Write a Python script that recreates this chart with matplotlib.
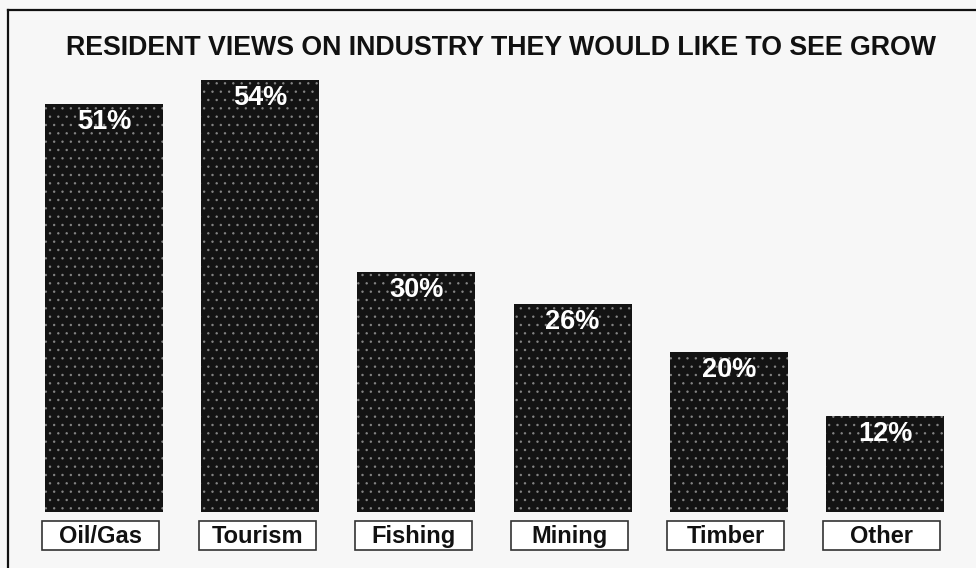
import matplotlib
matplotlib.use("Agg")
import matplotlib.pyplot as plt
from matplotlib.patches import Rectangle
from matplotlib.lines import Line2D

plt.rcParams['font.family'] = ['Liberation Sans', 'DejaVu Sans']
plt.rcParams['hatch.color'] = '#d8d8d8'
plt.rcParams['hatch.linewidth'] = 0.6

# survey results
industries = ['Oil/Gas', 'Tourism', 'Fishing', 'Mining', 'Timber', 'Other']
percent = [51, 54, 30, 26, 20, 12]
title = 'RESIDENT VIEWS ON INDUSTRY THEY WOULD LIKE TO SEE GROW'

W, H = 976, 568
bg = '#f7f7f7'
fig = plt.figure(figsize=(W / 100, H / 100), dpi=100, facecolor=bg)
ax = fig.add_axes([0, 0, 1, 1])
ax.set_facecolor(bg)
ax.axis('off')

# pixel -> data: bar pitch ~156px, 8px per percent, baseline at y=512px
pitch = 156.2
x0 = 104
ax.set_xlim(-x0 / pitch, (W - x0) / pitch)
ax.set_ylim(-(H - 512) / 8, 512 / 8)

pos = list(range(len(industries)))
bw = 0.755
ax.bar(pos, percent, width=bw, color='#131313', linewidth=0, zorder=2)
# speckled print texture
ax.bar(pos, percent, width=bw, color='none', edgecolor='#d8d8d8',
       linewidth=0, hatch='..', alpha=0.45, zorder=3)

for x, v in zip(pos, percent):
    ax.text(x, v - 2.3, f'{v}%', ha='center', va='center', color='white',
            fontsize=19.5, fontweight='bold', zorder=4)

# boxed category labels under the bars
box_w, box_top, box_bot = 0.75, -1.15, -4.75
for x, name in zip(pos, industries):
    ax.add_patch(Rectangle((x - 0.02 - box_w / 2, box_bot), box_w, box_top - box_bot,
                           facecolor='white', edgecolor='#333333', linewidth=1.2,
                           zorder=2))
    ax.text(x - 0.02, (box_top + box_bot) / 2 - 0.1, name, ha='center', va='center',
            fontsize=17, fontweight='bold', color='#111111', zorder=3)

fig.text(501 / W, 1 - 48 / H, title, ha='center', va='center',
         fontsize=19.3, fontweight='bold', color='#111111')

# frame lines along top and left
fig.add_artist(Line2D([8 / W, 1], [1 - 10 / H, 1 - 10 / H], color='#111111', lw=1.6))
fig.add_artist(Line2D([8 / W, 8 / W], [0, 1 - 10 / H], color='#111111', lw=1.6))

fig.savefig('out.png', dpi=100, facecolor=bg)
